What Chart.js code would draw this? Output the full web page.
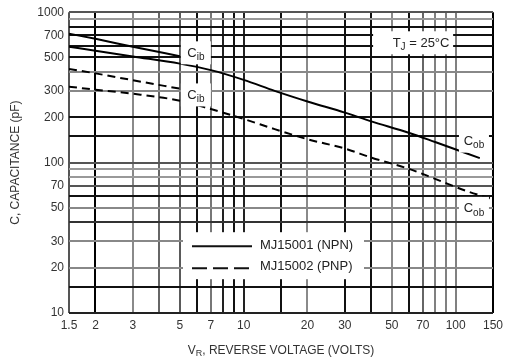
<!DOCTYPE html>
<html>
<head>
<meta charset="utf-8">
<script src="https://cdn.jsdelivr.net/npm/chart.js@4.4.0/dist/chart.umd.min.js"></script>
<style>
  html, body { margin: 0; padding: 0; background: #fff; }
  #wrap { width: 508px; height: 362px; }
</style>
</head>
<body>
<div id="wrap"><canvas id="capChart" width="508" height="362"></canvas></div>
<script>
// axis grid / tick values
const voltTicks = [1.5, 2, 3, 4, 5, 6, 7, 8, 9, 10, 15, 20, 30, 40, 50, 60, 70, 80, 90, 100, 150];
const voltLabels = [1.5, 2, 3, 5, 7, 10, 20, 30, 50, 70, 100, 150];
const capTicks = [10, 15, 20, 30, 40, 50, 60, 70, 80, 90, 100, 150, 200, 300, 400, 500, 600, 700, 800, 900, 1000];
const capLabels = [10, 20, 30, 50, 70, 100, 200, 300, 500, 700, 1000];

// MJ15001 (NPN) - solid lines
const npnCibV = [1.5, 2, 3, 5];
const npnCib = [720, 665, 590, 510];
const npnCobV = [1.5, 2, 3, 5, 7, 10, 14, 20, 30, 40, 60, 80, 130];
const npnCob = [590, 555, 508, 455, 412, 355, 300, 255, 215, 188, 158, 137, 107];

// MJ15002 (PNP) - dashed lines
const pnpCibV = [1.5, 2, 3, 5];
const pnpCib = [420, 392, 353, 310];
const pnpCobV = [1.5, 2, 3, 5, 7, 10, 14, 20, 30, 40, 60, 80, 115, 145];
const pnpCob = [320, 305, 287, 258, 227, 195, 167, 143, 124, 108, 91, 78, 64, 58];

// grid line shades (the scan has some lines darker than others)
const xGridColor = {1.5:'#555', 2:'#000', 3:'#8a8a8a', 4:'#666', 5:'#5a5a5a', 6:'#111', 7:'#777', 8:'#222', 9:'#111', 10:'#222',
  15:'#111', 20:'#8a8a8a', 30:'#111', 40:'#111', 50:'#8a8a8a', 60:'#111', 70:'#666', 80:'#808080', 90:'#808080', 100:'#808080', 150:'#000'};
const yGridColor = {10:'#222', 15:'#111', 20:'#888', 30:'#888', 40:'#333', 50:'#888', 60:'#111', 70:'#555', 80:'#999', 90:'#999',
  100:'#555', 150:'#111', 200:'#111', 300:'#888', 400:'#888', 500:'#111', 600:'#111', 700:'#111', 800:'#111', 900:'#999', 1000:'#555'};

const FONT = "'Liberation Sans', Arial, sans-serif";
Chart.defaults.font.family = FONT;
Chart.defaults.color = '#333';

function pts(xs, ys) {
  return xs.map((x, i) => ({ x: x, y: ys[i] }));
}

function line(data, dashed) {
  return {
    data: data,
    borderColor: '#000',
    borderWidth: 2,
    borderDash: dashed ? [8, 5] : [],
    pointRadius: 0,
    fill: false,
    cubicInterpolationMode: 'monotone'
  };
}

// C with subscript
function subText(ctx, x, y, main, sub, size) {
  ctx.font = size + 'px ' + FONT;
  const w1 = ctx.measureText(main).width;
  ctx.font = (size - 3) + 'px ' + FONT;
  const w2 = ctx.measureText(sub).width;
  let sx = x - (w1 + w2) / 2;
  ctx.font = size + 'px ' + FONT;
  ctx.fillText(main, sx, y + size * 0.35);
  ctx.font = (size - 3) + 'px ' + FONT;
  ctx.fillText(sub, sx + w1, y + size * 0.6);
  return sx + w1 + w2;
}

const curveLabels = [
  { main: 'C', sub: 'ib', v: 5.95, c: 541 },
  { main: 'C', sub: 'ib', v: 5.95, c: 284 },
  { main: 'C', sub: 'ob', v: 122, c: 140 },
  { main: 'C', sub: 'ob', v: 122, c: 50 }
];

const notes = {
  id: 'notes',
  afterDatasetsDraw(chart) {
    const ctx = chart.ctx;
    const xs = chart.scales.x, ys = chart.scales.y;
    const a = chart.chartArea;
    ctx.save();
    ctx.textBaseline = 'alphabetic';
    ctx.textAlign = 'left';

    // curve labels
    curveLabels.forEach(l => {
      const px = xs.getPixelForValue(l.v), py = ys.getPixelForValue(l.c);
      ctx.fillStyle = '#fff';
      ctx.fillRect(px - 15, py - 11, 30, 23);
      ctx.fillStyle = '#222';
      subText(ctx, px, py, l.main, l.sub, 13);
    });

    // junction temperature note
    const tx = xs.getPixelForValue(63), ty = ys.getPixelForValue(631);
    ctx.fillStyle = '#fff';
    ctx.fillRect(tx - 40, ty - 11, 80, 23);
    ctx.fillStyle = '#222';
    const end = subText(ctx, tx - 14, ty, 'T', 'J', 13);
    ctx.font = '13px ' + FONT;
    ctx.fillText(' = 25°C', end, ty + 5);

    // legend box
    const lx = a.left + 114, ly = a.top + 220;
    ctx.fillStyle = '#fff';
    ctx.fillRect(lx, ly, 181, 47);
    ctx.strokeStyle = '#111';
    ctx.lineWidth = 2;
    ctx.beginPath();
    ctx.moveTo(lx + 9, ly + 14);
    ctx.lineTo(lx + 69, ly + 14);
    ctx.stroke();
    ctx.setLineDash([15, 6]);
    ctx.beginPath();
    ctx.moveTo(lx + 9, ly + 36);
    ctx.lineTo(lx + 69, ly + 36);
    ctx.stroke();
    ctx.setLineDash([]);
    ctx.fillStyle = '#222';
    ctx.font = '13px ' + FONT;
    ctx.textBaseline = 'middle';
    ctx.fillText('MJ15001 (NPN)', lx + 77, ly + 13);
    ctx.fillText('MJ15002 (PNP)', lx + 77, ly + 34);

    // x axis title with subscript R
    ctx.textBaseline = 'alphabetic';
    ctx.fillStyle = '#333';
    ctx.font = '12px ' + FONT;
    const rest = ', REVERSE VOLTAGE (VOLTS)';
    const wV = ctx.measureText('V').width, wRest = ctx.measureText(rest).width;
    ctx.font = '9px ' + FONT;
    const wR = ctx.measureText('R').width;
    const cx = (a.left + a.right) / 2;
    let sx = cx - (wV + wR + wRest) / 2;
    const by = chart.height - 8;
    ctx.font = '12px ' + FONT;
    ctx.fillText('V', sx, by);
    ctx.font = '9px ' + FONT;
    ctx.fillText('R', sx + wV, by + 2);
    ctx.font = '12px ' + FONT;
    ctx.fillText(rest, sx + wV + wR, by);
    ctx.restore();
  }
};

const ctx = document.getElementById('capChart').getContext('2d');
const chart = new Chart(ctx, {
  type: 'line',
  data: {
    datasets: [
      line(pts(npnCibV, npnCib), false),
      line(pts(npnCobV, npnCob), false),
      line(pts(pnpCibV, pnpCib), true),
      line(pts(pnpCobV, pnpCob), true)
    ]
  },
  options: {
    responsive: false,
    animation: false,
    layout: { padding: { top: 11, right: 9, left: 0, bottom: 0 } },
    plugins: { legend: { display: false }, tooltip: { enabled: false } },
    scales: {
      x: {
        type: 'logarithmic',
        min: 1.5,
        max: 150,
        afterBuildTicks: s => { s.ticks = voltTicks.map(v => ({ value: v })); },
        afterFit: s => { s.height = 49; },
        grid: {
          color: c => xGridColor[c.tick.value] || '#000',
          lineWidth: 2,
          drawTicks: false
        },
        border: { display: false },
        ticks: {
          autoSkip: false,
          maxRotation: 0,
          padding: 5,
          font: { size: 12 },
          callback: v => voltLabels.includes(v) ? String(v) : ''
        }
      },
      y: {
        type: 'logarithmic',
        min: 10,
        max: 1000,
        afterBuildTicks: s => { s.ticks = capTicks.map(v => ({ value: v })); },
        afterFit: s => { s.width = 69; },
        grid: {
          color: c => yGridColor[c.tick.value] || '#000',
          lineWidth: 2,
          drawTicks: false
        },
        border: { display: false },
        ticks: {
          autoSkip: false,
          padding: 5,
          font: { size: 12 },
          callback: v => capLabels.includes(v) ? String(v) : ''
        },
        title: {
          display: true,
          text: 'C, CAPACITANCE (pF)',
          font: { size: 12 },
          padding: { top: 8, bottom: 0 }
        }
      }
    }
  },
  plugins: [notes]
});
</script>
</body>
</html>
